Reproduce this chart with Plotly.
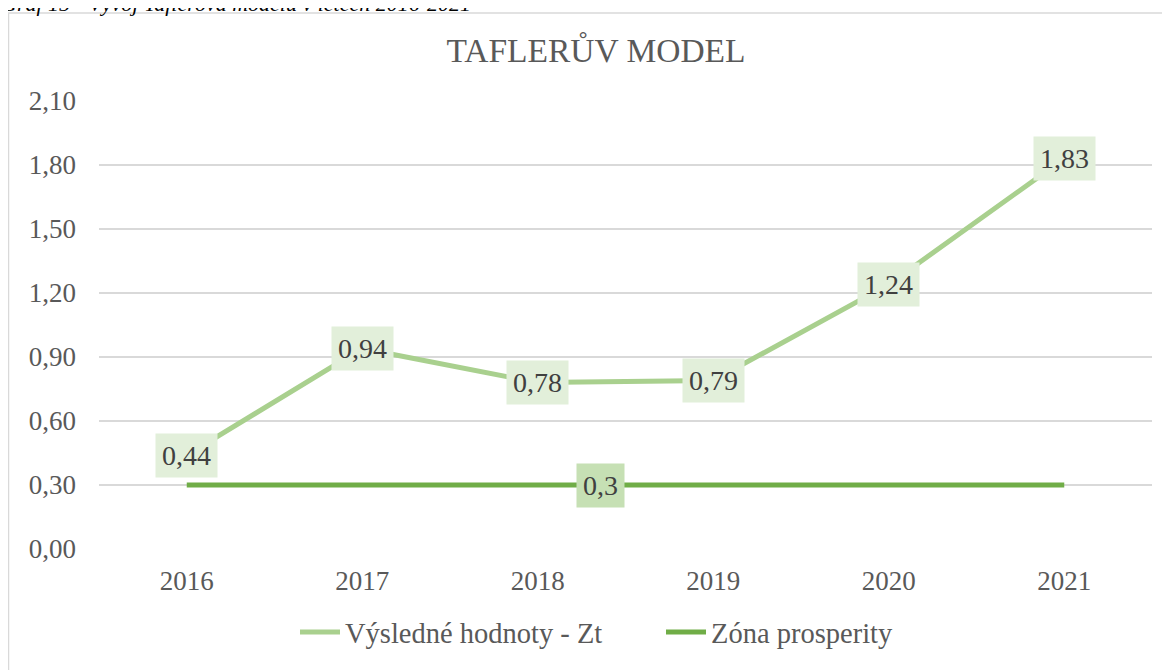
import plotly.graph_objects as go

years = ["2016", "2017", "2018", "2019", "2020", "2021"]
zt_values = [0.44, 0.94, 0.78, 0.79, 1.24, 1.83]
zone_values = [0.3, 0.3, 0.3, 0.3, 0.3, 0.3]
zt_labels = ["0,44", "0,94", "0,78", "0,79", "1,24", "1,83"]
zone_label = "0,3"
y_ticks = [0.0, 0.3, 0.6, 0.9, 1.2, 1.5, 1.8, 2.1]

FONT = "Liberation Serif, Times New Roman, serif"
# page has 8px body margin, so figure coords = page coords - 8
W, H = 1162, 662
L, R, T, B = 91, 18, 93, 108
pw, ph = W - L - R, H - T - B

def px_x(x):
    return (x - L) / pw

def px_y(y):
    return 1 - (y - T) / ph

fig = go.Figure()
fig.add_trace(go.Scatter(
    x=years, y=zt_values, mode="lines", name="Výsledné hodnoty - Zt",
    line=dict(color="#A9D08E", width=5), hoverinfo="skip"))
fig.add_trace(go.Scatter(
    x=years, y=zone_values, mode="lines", name="Zóna prosperity",
    line=dict(color="#70AD47", width=5), hoverinfo="skip"))

for i, (v, lab) in enumerate(zip(zt_values, zt_labels)):
    fig.add_annotation(x=i, y=v, xref="x", yref="y", text=lab, showarrow=False,
                       font=dict(family=FONT, size=28, color="#404040"),
                       bgcolor="#E2EFDA", borderpad=6)

fig.add_annotation(x=2.355, y=zone_values[2], xref="x", yref="y", text=zone_label,
                   showarrow=False, font=dict(family=FONT, size=28, color="#404040"),
                   bgcolor="#C6E0B4", borderpad=6)

# caption (cut off at top of page)
fig.add_annotation(x=px_x(-9), y=px_y(-7), xref="paper", yref="paper",
                   text="<i>Graf 15 - Vývoj Taflerova modelu v letech 2016-2021</i>",
                   showarrow=False, xanchor="left", yanchor="middle",
                   font=dict(family=FONT, size=22, color="#000000"))

# chart border
fig.add_shape(type="rect", xref="paper", yref="paper",
              x0=px_x(0.5), x1=px_x(1190), y0=px_y(690), y1=px_y(2.5),
              line=dict(color="#D9D9D9", width=1.5), fillcolor="rgba(0,0,0,0)", layer="below")

fig.update_layout(
    width=W, height=H,
    margin=dict(l=L, r=R, t=T, b=B),
    paper_bgcolor="white", plot_bgcolor="white",
    separators=", ",
    title=dict(text="TAFLERŮV MODEL", xref="paper", x=px_x(588), xanchor="center",
               yref="container", y=1 - 42 / H, yanchor="middle",
               font=dict(family=FONT, size=33.5, color="#595959")),
    showlegend=True,
    legend=dict(orientation="h", x=px_x(287), xanchor="left", y=px_y(640), yanchor="middle",
                font=dict(family=FONT, size=28.5, color="#595959"),
                bgcolor="rgba(0,0,0,0)", itemwidth=40, entrywidth=311),
    xaxis=dict(type="category", categoryorder="array", categoryarray=years,
               range=[-0.5, 5.5], showgrid=False, showline=False, zeroline=False,
               tickfont=dict(family=FONT, size=27, color="#595959"),
               ticks="", ticklabelstandoff=13),
    yaxis=dict(range=[0, 2.1], tickvals=y_ticks, tickformat=".2f",
               showgrid=True, gridcolor="#D9D9D9", gridwidth=1.5,
               zeroline=False, showline=False, ticks="",
               tickfont=dict(family=FONT, size=27, color="#595959"),
               ticklabelstandoff=22),
)

fig.write_html("out.html")
